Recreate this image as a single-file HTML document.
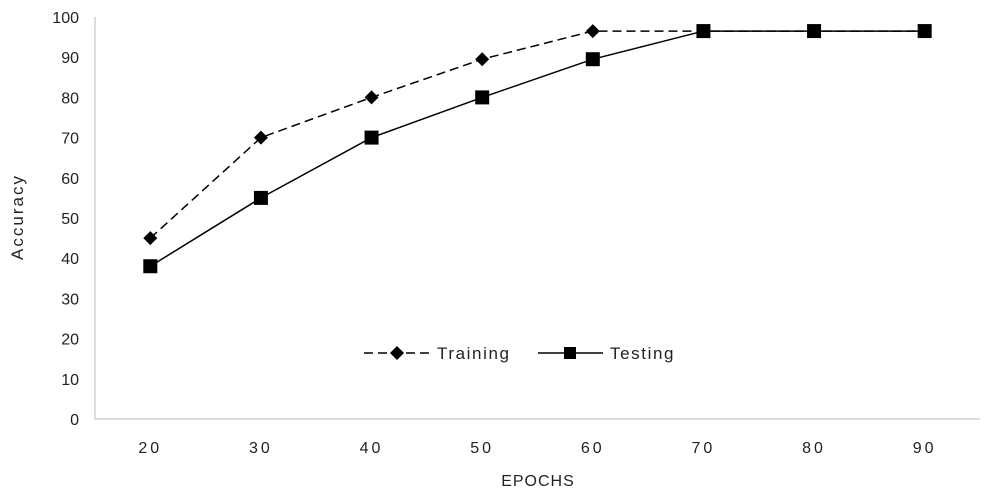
<!DOCTYPE html>
<html><head><meta charset="utf-8"><style>
body{margin:0;background:#fff;}
svg text{font-family:"Liberation Sans",sans-serif;fill:#222;}
</style></head><body>
<svg width="989" height="494" viewBox="0 0 989 494">
<g id="axes"></g><g id="series"></g>
<text x="538" y="486" font-size="16" letter-spacing="1" text-anchor="middle">EPOCHS</text>
<text transform="translate(23,217) rotate(-90)" font-size="17" letter-spacing="2" text-anchor="middle">Accuracy</text>
<g>
<g>
<line x1="364" y1="353" x2="430" y2="353" stroke="#000" stroke-width="1.5" stroke-dasharray="9,5"/>
<path d="M397 346 L404 353 L397 360 L390 353Z" fill="#000"/>
<text x="437" y="359" font-size="17" letter-spacing="1.6">Training</text></g>
<g>
<line x1="538" y1="353" x2="603" y2="353" stroke="#000" stroke-width="1.5"/>
<rect x="564" y="347" width="12" height="12" fill="#000"/>
<text x="610" y="359" font-size="17" letter-spacing="1.6">Testing</text></g>
</g>
</svg>
<script>
const categories=["20","30","40","50","60","70","80","90"];
const training=[45,70,80,89.5,96.5,96.5,96.5,96.5];
const testing=[38,55,70,80,89.5,96.5,96.5,96.5];
const yTicks=[0,10,20,30,40,50,60,70,80,90,100];
const NS="http://www.w3.org/2000/svg";
const L=95,R=980,T=17,B=419;
const x=i=>L+(R-L)/categories.length*(i+0.5);
const y=v=>B-(B-T)*v/100;
const ax=document.getElementById('axes'),se=document.getElementById('series');
function mk(t,a,p){const e=document.createElementNS(NS,t);for(const k in a)e.setAttribute(k,a[k]);p.appendChild(e);return e;}
const yl=mk('line',{x1:L,y1:T,x2:L,y2:B,stroke:'#d0d0d0','stroke-width':1.5},ax);


const xl=mk('line',{x1:L,y1:B,x2:R,y2:B,stroke:'#d0d0d0','stroke-width':1.5},ax);


yTicks.forEach(v=>{const t=mk('text',{x:79,y:y(v)+6,'font-size':16,'text-anchor':'end'},ax);t.textContent=v;

});
categories.forEach((c,i)=>{const t=mk('text',{x:x(i),y:453,'font-size':16,'text-anchor':'middle','letter-spacing':'3'},ax);t.textContent=c;

});
const p1=mk('polyline',{points:training.map((v,i)=>x(i)+','+y(v)).join(' '),fill:'none',stroke:'#000','stroke-width':1.5,'stroke-dasharray':'9,5'},se);


const p2=mk('polyline',{points:testing.map((v,i)=>x(i)+','+y(v)).join(' '),fill:'none',stroke:'#000','stroke-width':1.5},se);


training.forEach((v,i)=>{const cx=x(i),cy=y(v);const m=mk('path',{d:`M${cx} ${cy-7}L${cx+7} ${cy}L${cx} ${cy+7}L${cx-7} ${cy}Z`,fill:'#000'},se);

});
testing.forEach((v,i)=>{const m=mk('rect',{x:x(i)-7,y:y(v)-7,width:14,height:14,fill:'#000'},se);

});
</script>
</body></html>
